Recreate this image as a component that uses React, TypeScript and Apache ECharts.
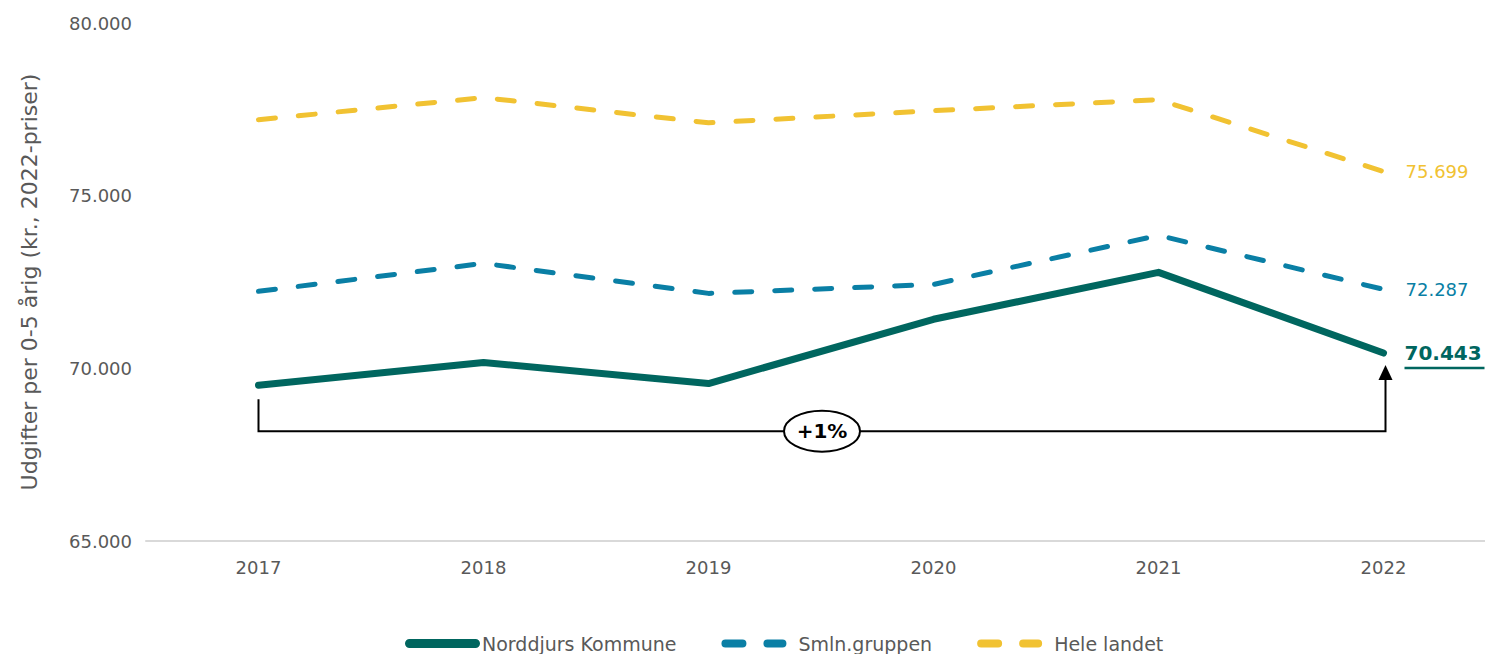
import React, { useEffect, useRef } from "react";
import * as echarts from "echarts";

const years = ["2017", "2018", "2019", "2020", "2021", "2022"];
const norddjurs = [69510, 70170, 69560, 71420, 72780, 70443];
const smln = [72230, 73040, 72170, 72430, 73850, 72287];
const heleLandet = [77200, 77840, 77110, 77460, 77780, 75699];
const changeLabel = "+1%";
const yAxisName = "Udgifter per 0-5 årig (kr., 2022-priser)";

const C_NORD = "#00665f";
const C_SMLN = "#0a7fa5";
const C_HELE = "#f1c232";
const C_TEXT = "#595959";
const FONT = "DejaVu Sans";

const fmt = (v: number) => {
  const s = Math.round(v).toString();
  return s.replace(/\B(?=(\d{3})+(?!\d))/g, ".");
};

const SOLID_ICON = "path://M4.5,0.5 H70.5 A4.5,4.5 0 0 1 70.5,9.5 H4.5 A4.5,4.5 0 0 1 4.5,0.5 Z M74.99,0 h0.01 v10 h-0.01 Z M0,0 h0.01 v10 h-0.01 Z";
const DASH_ICON = "path://M4,1 H21 A4,4 0 0 1 21,9 H4 A4,4 0 0 1 4,1 Z M46,1 H61 A4,4 0 0 1 61,9 H46 A4,4 0 0 1 46,1 Z M74.99,0 h0.01 v10 h-0.01 Z";

export default function App() {
  const ref = useRef<HTMLDivElement>(null);
  useEffect(() => {
    document.body.style.margin = "0";
    const chart = echarts.init(ref.current!, null, { renderer: "svg" });
    const dashed = (color: string) => ({
      color,
      width: 5,
      type: [17, 23] as any,
      cap: "round" as const,
    });
    const endLabel = (color: string) => ({
      show: true,
      distance: 22,
      color,
      fontSize: 18,
      fontFamily: FONT,
      formatter: (p: any) => fmt(p.value),
    });
    chart.setOption({
      animation: false,
      textStyle: { fontFamily: FONT },
      grid: { left: 146, width: 1350, top: 23, bottom: 113, outerBoundsMode: "none", containLabel: false },
      xAxis: {
        type: "category",
        data: years,
        boundaryGap: true,
        axisLine: { lineStyle: { color: "#d9d9d9", width: 2 } },
        axisTick: { show: false },
        axisLabel: { color: C_TEXT, fontSize: 18, margin: 17, fontFamily: FONT },
      },
      yAxis: {
        type: "value",
        min: 65000,
        max: 80000,
        interval: 5000,
        name: yAxisName,
        nameLocation: "middle",
        nameGap: 106,
        nameTextStyle: { color: C_TEXT, fontSize: 22, fontFamily: FONT },
        axisLine: { show: false },
        axisTick: { show: false },
        splitLine: { show: false },
        axisLabel: {
          color: C_TEXT,
          fontSize: 18,
          margin: 14,
          fontFamily: FONT,
          formatter: (v: number) => fmt(v),
        },
      },
      legend: {
        top: 629,
        left: 400,
        itemWidth: 75,
        itemHeight: 10,
        itemGap: 45,
        textStyle: { color: C_TEXT, fontSize: 19, fontFamily: FONT, padding: [0, 0, 0, -3] },
        data: [
          { name: "Norddjurs Kommune", icon: SOLID_ICON },
          { name: "Smln.gruppen", icon: DASH_ICON },
          { name: "Hele landet", icon: DASH_ICON },
        ],
      },
      series: [
        {
          name: "Hele landet",
          type: "line",
          data: heleLandet,
          symbol: "none",
          color: C_HELE,
          lineStyle: dashed(C_HELE),
          endLabel: endLabel(C_HELE),
        },
        {
          name: "Smln.gruppen",
          type: "line",
          data: smln,
          symbol: "none",
          color: C_SMLN,
          lineStyle: dashed(C_SMLN),
          endLabel: endLabel(C_SMLN),
        },
        {
          name: "Norddjurs Kommune",
          type: "line",
          data: norddjurs,
          symbol: "none",
          color: C_NORD,
          lineStyle: { color: C_NORD, width: 7, cap: "round", join: "round" },
          endLabel: {
            show: true,
            distance: 21,
            color: C_NORD,
            fontSize: 20,
            fontWeight: "bold",
            fontFamily: FONT,
            formatter: (p: any) => fmt(p.value),
          },
        },
      ],
    });

    const n = norddjurs.length - 1;
    const p0 = chart.convertToPixel({ xAxisIndex: 0, yAxisIndex: 0 }, [years[0], norddjurs[0]]) as number[];
    const p1 = chart.convertToPixel({ xAxisIndex: 0, yAxisIndex: 0 }, [years[n], norddjurs[n]]) as number[];
    const yBase = chart.convertToPixel({ yAxisIndex: 0 }, 68180) as number;
    const xL = p0[0];
    const xR = p1[0] + 2;
    const yTopL = p0[1] + 14;
    const tipY = p1[1] + 12;
    const midX = (xL + xR) / 2;
    const ulY = p1[1] + 15;
    const ulX0 = p1[0] + 21;

    chart.setOption({
      graphic: [
        {
          type: "polyline",
          shape: { points: [[xL, yTopL], [xL, yBase], [xR, yBase], [xR, tipY + 14]] },
          style: { stroke: "#000", lineWidth: 2, fill: null },
          z: 10,
        },
        {
          type: "polygon",
          shape: { points: [[xR, tipY], [xR - 7, tipY + 15], [xR + 7, tipY + 15]] },
          style: { fill: "#000" },
          z: 10,
        },
        {
          type: "ellipse",
          shape: { cx: midX, cy: yBase, rx: 38, ry: 20.5 },
          style: { fill: "#fff", stroke: "#000", lineWidth: 2 },
          z: 11,
        },
        {
          type: "text",
          x: midX,
          y: yBase,
          style: {
            text: changeLabel,
            fill: "#000",
            font: `bold 20px ${FONT}`,
            align: "center",
            verticalAlign: "middle",
          },
          z: 12,
        },
        {
          type: "line",
          shape: { x1: ulX0, y1: ulY, x2: ulX0 + 80, y2: ulY },
          style: { stroke: C_NORD, lineWidth: 2.5 },
          z: 10,
        },
      ],
    });

    return () => chart.dispose();
  }, []);
  return <div ref={ref} style={{ width: 1485, height: 654 }} />;
}
